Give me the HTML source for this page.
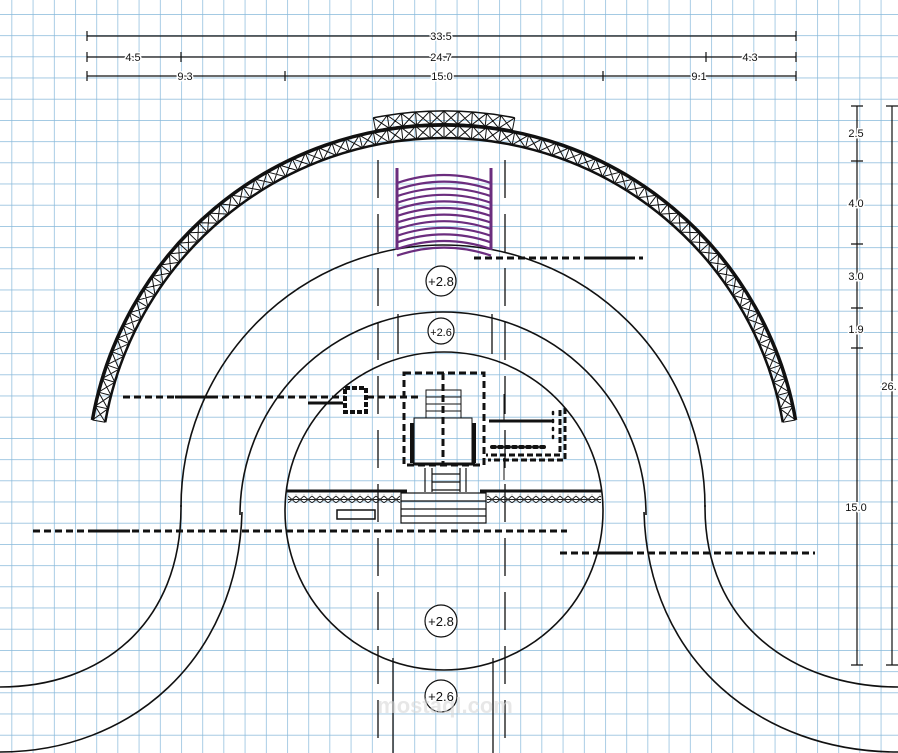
<!DOCTYPE html>
<html><head><meta charset="utf-8"><style>
html,body{margin:0;padding:0;background:#fff}
svg{display:block}
text{font-family:"Liberation Sans",sans-serif;fill:#111}
.d text{stroke:#fff;stroke-width:3;paint-order:stroke}
</style></head><body>
<svg id="s" width="898" height="753" viewBox="0 0 898 753" xmlns="http://www.w3.org/2000/svg">
<defs>
<pattern id="g" x="11.5" y="14" width="21.2" height="21.2" patternUnits="userSpaceOnUse">
<path d="M0 0V21.2M0 0H21.2" stroke="#86b8da" stroke-width="1.4" fill="none"/>
</pattern>
<pattern id="h" x="0" y="0" width="8" height="9" patternUnits="userSpaceOnUse">
<path d="M0 1L8 8M8 1L0 8M0 4.5H8" stroke="#222" stroke-width="1"/>
</pattern>
</defs>
<rect width="898" height="753" fill="#fff"/>
<rect width="898" height="753" fill="url(#g)"/>

<g stroke="#111" stroke-width="1.2" fill="none">
<path d="M87 36H796M87 31V41M796 31V41"/>
<path d="M87 57H796M87 52V62M181 52V62M706 52V62M796 52V62"/>
<path d="M87 76H796M87 71V81M285 71V81M603 71V81M796 71V81"/>
<path d="M857 106V665M851 106H863M851 161H863M851 244H863M851 308H863M851 348H863M851 665H863"/>
<path d="M892 106V665M886 106H898M886 665H898"/>
</g>
<g font-size="11" text-anchor="middle" class="d">
<text x="441" y="40">33.5</text>
<text x="133" y="61">4.5</text><text x="441" y="61">24.7</text><text x="750" y="61">4.3</text>
<text x="185" y="80">9.3</text><text x="442" y="80">15.0</text><text x="699" y="80">9.1</text>
<text x="856" y="137">2.5</text><text x="856" y="207">4.0</text><text x="856" y="280">3.0</text>
<text x="856" y="333">1.9</text><text x="856" y="511">15.0</text><text x="889" y="390">26.</text>
</g>

<g stroke="#111" stroke-width="1.3" fill="none">
<path d="M398 314V354M492 314V354M393 658V753M493 658V753"/>
<path d="M378 160V753M505 160V753" stroke-dasharray="38 16"/>
</g>

<g stroke="#111" stroke-width="1.6" fill="none">
<path d="M181 507A262 262 0 0 1 705 507"/>
<path d="M181 505C182 625 100 687 0 687"/>
<path d="M705 505C704 625 795 687 898 687"/>
<path d="M240 515A203 203 0 0 1 646 515"/>
<path d="M242 512C238 660 130 752 0 752"/>
<path d="M644 512C648 660 760 752 898 752"/>
<circle cx="444" cy="511" r="159"/>
</g>

<g id="truss" fill="none" stroke="#111"></g>

<g stroke="#6b2d7e" fill="none" stroke-width="2.2" id="seat">
<path d="M397 168V250M491 168V250" stroke-width="3"/>
</g>

<g stroke="#111" stroke-width="3" fill="none" stroke-dasharray="7 4">
<path d="M474 258H643"/>
<path d="M123 397H345M367 397H420"/>
<path d="M33 531H567"/>
<path d="M560 553H815"/>
</g>
<g stroke="#111" stroke-width="3" fill="none">
<path d="M585 258H630M175 397H215M90 531H130M600 553H630M308 403H343"/>
</g>

<rect x="345" y="388" width="21" height="24" fill="none" stroke="#111" stroke-width="4" stroke-dasharray="5 2"/>

<g stroke="#111" fill="none">
<rect x="404" y="373" width="80" height="92" stroke-width="3" stroke-dasharray="7 4"/>
<path d="M443 373V463" stroke-width="3" stroke-dasharray="7 4"/>
<rect x="426" y="390" width="35" height="28" stroke-width="1"/>
<path d="M426 397H461M426 404H461M426 411H461" stroke-width="1"/>
<rect x="414" y="418" width="58" height="47" stroke-width="1"/>
<path d="M412 423V463M474 423V463" stroke-width="4"/>
<path d="M413 464H475" stroke-width="3"/>
<path d="M489 421H552" stroke-width="3"/>
<path d="M492 447H548" stroke-width="4" stroke-dasharray="3 4" stroke-linecap="round"/>
<path d="M553 412V442" stroke-width="2.5" stroke-dasharray="2 6" stroke-linecap="round"/>
<path d="M560 410V455H486M565 408V460H488" stroke-width="3" stroke-dasharray="6 3"/>
<path d="M504 394V421M504 458V480" stroke-width="1"/>
<path d="M425 468V492M432 468V492M460 468V492M466 468V492M432 474H460M432 482H460M432 490H460" stroke-width="1.2"/>
</g>

<g stroke="#111" fill="none">
<path d="M287 491H407M480 491H601" stroke-width="3"/>
<rect x="288" y="494" width="112" height="9" fill="url(#h)" stroke="none"/>
<rect x="487" y="494" width="114" height="9" fill="url(#h)" stroke="none"/>
<rect x="401" y="493" width="85" height="30" stroke-width="1.2"/>
<path d="M401 501H486M401 509H486M401 516H486" stroke-width="1.2"/>
<rect x="337" y="510" width="38" height="9" stroke-width="1.5"/>
</g>

<g fill="#fff" stroke="#111" stroke-width="1.2">
<circle cx="441" cy="281" r="15"/>
<circle cx="441" cy="331" r="13"/>
<circle cx="441" cy="621" r="16"/>
<circle cx="441" cy="696" r="16"/>
</g>
<g font-size="13" text-anchor="middle">
<text x="441" y="286">+2.8</text>
<text x="441" y="336" font-size="11">+2.6</text>
<text x="441" y="626">+2.8</text>
<text x="441" y="701">+2.6</text>
</g>
<text x="445" y="713" font-size="22" font-weight="bold" text-anchor="middle" style="fill:#d8d8d8;opacity:.6">mostaql.com</text>
</svg>
<script>
(function(){
var NS="http://www.w3.org/2000/svg",t=document.getElementById('truss');
function el(n,a){var e=document.createElementNS(NS,n);for(var k in a)e.setAttribute(k,a[k]);t.appendChild(e);return e;}
function pt(cx,cy,r,a){return [cx+r*Math.cos(a),cy-r*Math.sin(a)];}
function band(cx,cy,r1,r2,a0,a1,step,w1,w2){
 var p0=pt(cx,cy,r2,a0),p1=pt(cx,cy,r2,a1);
 el('path',{d:'M'+p0+'A'+r2+' '+r2+' 0 0 1 '+p1,'stroke-width':w2});
 var q0=pt(cx,cy,r1,a0),q1=pt(cx,cy,r1,a1);
 el('path',{d:'M'+q0+'A'+r1+' '+r1+' 0 0 1 '+q1,'stroke-width':w1});
 var n=Math.round((a0-a1)/step),d='';
 for(var i=0;i<=n;i++){var a=a0-(a0-a1)*i/n;var A=pt(cx,cy,r1,a),B=pt(cx,cy,r2,a);d+='M'+A+'L'+B;
  if(i<n){var a2=a0-(a0-a1)*(i+1)/n;var C=pt(cx,cy,r1,a2),D=pt(cx,cy,r2,a2);d+='M'+A+'L'+D+'M'+B+'L'+C;}}
 el('path',{d:d,'stroke-width':1});
}
var D=Math.PI/180;
band(444,482,344,357,170*D,10*D,2.3*D,2.5,3.5);
band(444,482,358,371,101*D,79*D,2.3*D,2,1.5);
var s=document.getElementById('seat');
for(var i=0;i<12;i++){var y=175+i*6.6;var p=document.createElementNS(NS,'path');
 p.setAttribute('d','M397 '+(y+8)+'Q444 '+(y-8)+' 491 '+(y+8));s.appendChild(p);}
})();
</script>
</body></html>
